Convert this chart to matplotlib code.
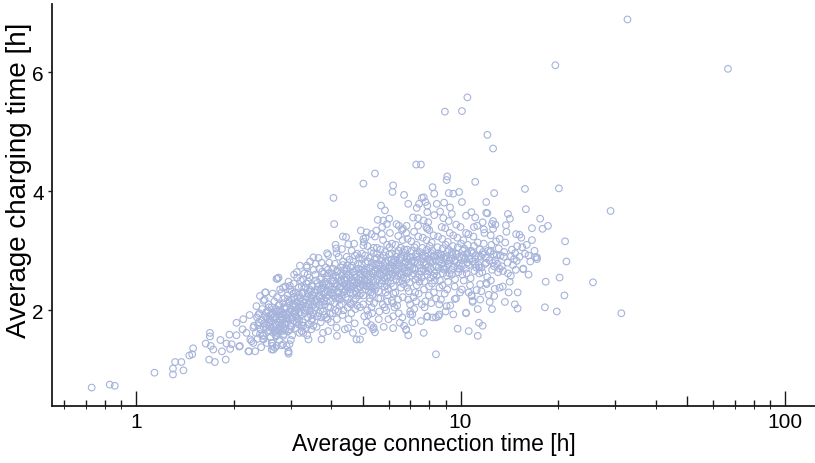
import numpy as np
import matplotlib
matplotlib.use("Agg")
from matplotlib import pyplot as plt

plt.rcParams['font.family'] = ['Liberation Sans', 'DejaVu Sans']

# (connection time [h], charging time [h])
tail_pts = [
    (0.73, 0.70), (0.83, 0.75), (0.86, 0.73), (1.14, 0.95), (1.30, 1.02), (1.30, 0.92),
    (1.32, 1.13), (1.38, 1.13), (1.40, 0.99), (1.46, 1.24), (1.50, 1.36), (1.49, 1.26),
    (1.64, 1.44), (1.69, 1.62), (1.69, 1.56), (1.68, 1.17), (1.75, 1.13), (1.73, 1.34),
    (1.70, 1.40), (1.82, 1.50), (1.89, 1.17), (1.84, 1.31), (1.94, 1.59), (1.97, 1.43),
    (2.04, 1.79), (2.08, 1.39), (2.14, 1.85), (2.19, 1.62), (2.22, 1.31), (2.27, 1.48),
    (2.30, 1.71), (2.33, 1.31), (2.35, 2.07), (2.41, 2.24), (2.50, 2.30), (2.47, 1.57),
    (2.65, 1.34), (2.71, 2.53), (1.90, 1.44), (1.95, 1.35), (2.04, 1.58), (2.09, 1.40),
    (2.13, 1.68), (2.23, 1.31), (2.25, 1.51), (2.30, 1.45), (2.31, 1.74), (2.24, 1.92),
    (2.38, 1.92), (2.47, 2.16), (2.51, 2.30), (2.73, 2.53), (2.78, 2.35), (2.84, 2.38),
    (2.98, 2.41), (2.47, 1.51), (2.62, 1.34), (2.63, 1.40), (2.71, 1.40), (2.91, 1.40),
    (2.95, 1.31), (2.95, 1.27), (2.97, 1.43), (2.68, 1.37), (2.62, 1.45), (2.81, 1.41),
    (2.47, 1.52), (2.71, 1.58),
]

low_pts = [
    (8.4, 1.26), (2.95, 1.30), (3.0, 1.50), (3.4, 1.51), (3.73, 1.51), (3.37, 1.58),
    (3.47, 1.68), (3.24, 1.65), (3.91, 1.65), (4.16, 1.57), (4.78, 1.51), (4.66, 1.62),
    (5.0, 1.65), (5.38, 1.68), (5.45, 1.63), (4.4, 1.68), (6.8, 1.68), (6.9, 1.58),
    (7.7, 1.62), (9.8, 1.69), (10.6, 1.65), (11.3, 1.57), (11.4, 1.79), (11.7, 1.74),
    (10.4, 1.95), (10.9, 2.14), (9.5, 1.93), (9.06, 2.07), (7.9, 1.90), (8.55, 1.90),
    (8.2, 1.88), (7.0, 1.93), (6.5, 1.79), (6.0, 1.85), (6.2, 1.90), (5.4, 1.71),
    (4.9, 1.51), (4.15, 1.71), (3.77, 1.62), (3.52, 1.74), (3.28, 1.74), (3.13, 1.79),
    (2.84, 1.57), (2.84, 1.43), (2.78, 1.68), (2.98, 1.68), (6.8, 1.67), (6.7, 1.74),
    (8.6, 1.93), (8.4, 1.88), (7.9, 1.89), (7.1, 1.93), (12.3, 2.14), (12.5, 2.02),
    (11.3, 2.02), (10.4, 1.96), (10.9, 2.16), (11.6, 2.32), (11.5, 2.44), (10.1, 2.35),
    (9.6, 2.19), (12.7, 2.24), (12.0, 2.46), (10.8, 2.25), (13.2, 2.38), (13.7, 2.14),
    (14.7, 2.10), (15.0, 2.03), (15.0, 2.30),
]

high_pts = [
    (4.06, 3.89), (4.08, 3.45), (5.02, 4.13), (5.45, 4.30), (6.2, 4.10), (6.17, 3.99),
    (6.7, 3.94), (6.9, 3.79), (7.3, 4.45), (7.55, 4.45), (5.69, 3.76), (5.85, 3.68),
    (5.56, 3.52), (5.78, 3.51), (6.03, 3.54), (5.93, 3.45), (6.35, 3.45), (6.65, 3.37),
    (6.82, 3.42), (7.14, 3.56), (7.33, 3.72), (7.45, 3.79), (7.6, 3.89), (7.8, 3.82),
    (7.7, 3.51), (7.9, 3.65), (7.9, 3.37), (4.34, 3.24), (4.44, 3.23), (4.51, 3.11),
    (4.14, 3.04), (4.31, 3.03), (3.52, 2.89), (3.91, 2.93), (4.93, 3.34), (5.14, 3.31),
    (5.32, 3.28), (5.02, 3.20), (5.02, 3.09), (5.5, 3.34), (5.45, 3.24), (3.2, 2.75),
    (2.75, 2.55), (3.13, 2.64), (3.36, 2.72), (3.73, 2.80), (8.2, 4.07), (8.3, 3.96),
    (9.06, 4.19), (9.2, 3.97), (9.5, 3.96), (9.9, 3.99), (11.1, 4.16), (12.7, 3.97),
    (10.1, 3.82), (12.0, 3.82), (12.1, 3.63), (10.5, 5.58), (8.95, 5.34), (10.1, 5.35),
    (12.1, 4.95), (12.6, 4.72), (9.1, 4.25), (15.8, 4.04), (14.0, 3.62), (14.2, 3.54),
    (13.8, 3.43), (15.9, 3.70), (17.6, 3.54), (18.6, 3.42), (17.9, 3.37), (16.6, 3.38),
    (15.2, 3.27), (17.0, 2.89), (16.2, 2.92), (17.2, 2.89), (15.5, 3.06), (14.3, 2.91),
    (14.9, 2.83), (15.6, 2.69), (7.7, 3.90), (7.9, 3.76), (8.45, 3.79), (8.9, 3.81),
    (8.65, 3.66), (9.28, 3.73), (9.4, 3.62), (10.4, 3.59), (10.8, 3.65), (11.1, 3.56),
    (11.7, 3.48), (12.0, 3.64), (12.5, 3.45), (12.6, 3.37),
]

outlier_pts = [
    (32.7, 6.89), (19.6, 6.12), (66.7, 6.06), (20.1, 4.05), (29.0, 3.67), (21.0, 3.16),
    (21.2, 2.82), (18.3, 2.48), (20.2, 2.55), (25.6, 2.47), (20.9, 2.25), (18.2, 2.05),
    (19.8, 1.98), (31.3, 1.95),
]

core_pts = [
    # 2.3 - 2.6 h
    (2.34, 1.62), (2.36, 1.88), (2.38, 1.75), (2.40, 1.95), (2.42, 1.68), (2.44, 1.83),
    (2.45, 2.02), (2.46, 1.58), (2.48, 1.78), (2.50, 1.90), (2.51, 1.70), (2.52, 1.97),
    (2.53, 1.45), (2.54, 1.85), (2.55, 1.64), (2.56, 2.10), (2.57, 1.80), (2.58, 1.73),
    (2.59, 1.92), (2.60, 1.55), (2.37, 1.52), (2.43, 1.38), (2.49, 2.18), (2.55, 1.99),
    (2.58, 1.66), (2.39, 1.80), (2.47, 1.72), (2.53, 1.88), (2.41, 1.60), (2.57, 2.05),
    # 2.6 - 2.9 h
    (2.61, 1.82), (2.62, 2.05), (2.63, 1.70), (2.64, 1.95), (2.65, 1.62), (2.66, 1.88),
    (2.67, 2.15), (2.68, 1.76), (2.69, 1.98), (2.70, 1.56), (2.71, 1.85), (2.72, 2.22),
    (2.73, 1.68), (2.74, 1.92), (2.75, 2.08), (2.76, 1.79), (2.77, 1.50), (2.78, 2.00),
    (2.79, 1.73), (2.80, 1.90), (2.81, 2.30), (2.82, 1.65), (2.83, 1.84), (2.84, 2.12),
    (2.85, 1.95), (2.86, 1.60), (2.87, 1.78), (2.88, 2.02), (2.89, 2.40), (2.90, 1.87),
    (2.63, 1.45), (2.67, 1.90), (2.71, 1.75), (2.75, 1.98), (2.79, 1.83), (2.83, 1.93),
    (2.87, 2.20), (2.69, 1.64), (2.77, 2.10), (2.85, 1.70),
    # 2.9 - 3.2 h
    (2.91, 2.05), (2.92, 1.80), (2.93, 2.25), (2.94, 1.92), (2.95, 1.65), (2.96, 2.12),
    (2.97, 1.98), (2.98, 2.35), (2.99, 1.74), (3.00, 2.02), (3.01, 1.88), (3.02, 2.18),
    (3.03, 1.58), (3.04, 2.08), (3.05, 1.95), (3.06, 2.45), (3.07, 1.82), (3.08, 2.22),
    (3.09, 2.00), (3.10, 1.70), (3.11, 2.30), (3.12, 1.90), (3.13, 2.14), (3.14, 2.55),
    (3.15, 1.86), (3.16, 2.04), (3.17, 1.76), (3.18, 2.26), (3.19, 1.96), (3.20, 2.10),
    (2.93, 1.85), (2.97, 2.15), (3.01, 1.72), (3.05, 2.28), (3.09, 1.93), (3.13, 1.80),
    (3.17, 2.38), (3.03, 1.98), (3.11, 2.07), (3.19, 1.62), (2.95, 2.48), (3.07, 2.60),
    # 3.2 - 3.55 h
    (3.21, 2.20), (3.22, 1.92), (3.24, 2.40), (3.25, 2.05), (3.26, 1.80), (3.28, 2.30),
    (3.29, 2.12), (3.30, 2.62), (3.31, 1.95), (3.33, 2.18), (3.34, 1.70), (3.35, 2.45),
    (3.36, 2.02), (3.38, 2.28), (3.39, 1.88), (3.40, 2.10), (3.42, 2.55), (3.43, 1.98),
    (3.44, 2.35), (3.45, 2.15), (3.47, 1.82), (3.48, 2.42), (3.49, 2.06), (3.50, 2.25),
    (3.52, 1.94), (3.53, 2.68), (3.54, 2.16), (3.23, 2.08), (3.27, 2.52), (3.32, 2.00),
    (3.37, 2.22), (3.41, 1.76), (3.46, 2.32), (3.51, 2.10), (3.28, 1.62), (3.36, 2.75),
    (3.44, 2.00), (3.50, 1.86), (3.25, 2.28), (3.40, 2.48), (3.47, 2.20), (3.33, 2.38),
    # 3.55 - 3.95 h
    (3.56, 2.30), (3.58, 2.05), (3.59, 2.50), (3.61, 2.18), (3.62, 1.90), (3.64, 2.40),
    (3.65, 2.25), (3.67, 2.70), (3.68, 2.08), (3.70, 2.35), (3.71, 1.80), (3.73, 2.55),
    (3.74, 2.14), (3.76, 2.42), (3.77, 1.98), (3.79, 2.28), (3.80, 2.62), (3.82, 2.10),
    (3.83, 2.48), (3.85, 2.22), (3.86, 1.88), (3.88, 2.58), (3.89, 2.32), (3.91, 2.06),
    (3.92, 2.44), (3.94, 2.80), (3.57, 2.60), (3.60, 2.12), (3.63, 2.34), (3.66, 1.95),
    (3.69, 2.52), (3.72, 2.20), (3.75, 2.65), (3.78, 2.38), (3.81, 1.92), (3.84, 2.30),
    (3.87, 2.15), (3.90, 2.68), (3.93, 2.26), (3.60, 1.72), (3.70, 2.00), (3.80, 2.45),
    (3.90, 1.85), (3.65, 2.88), (3.85, 2.72),
    # 3.95 - 4.4 h
    (3.96, 2.40), (3.98, 2.15), (4.00, 2.62), (4.02, 2.28), (4.04, 1.95), (4.06, 2.50),
    (4.08, 2.35), (4.10, 2.78), (4.12, 2.20), (4.14, 2.45), (4.16, 1.85), (4.18, 2.66),
    (4.20, 2.30), (4.22, 2.55), (4.24, 2.08), (4.26, 2.40), (4.28, 2.72), (4.30, 2.25),
    (4.32, 2.58), (4.34, 2.36), (4.36, 2.00), (4.38, 2.68), (4.39, 2.44), (3.97, 2.05),
    (4.01, 2.35), (4.05, 2.70), (4.09, 2.12), (4.13, 2.58), (4.17, 2.42), (4.21, 2.90),
    (4.25, 2.18), (4.29, 2.50), (4.33, 1.92), (4.37, 2.30), (4.03, 2.48), (4.11, 2.00),
    (4.19, 2.22), (4.27, 2.62), (4.35, 2.82), (3.99, 1.80), (4.15, 2.96), (4.31, 2.10),
    (4.07, 2.25), (4.23, 2.38), (4.37, 2.52),
    # 4.4 - 4.9 h
    (4.41, 2.50), (4.43, 2.22), (4.45, 2.70), (4.47, 2.38), (4.49, 2.05), (4.51, 2.60),
    (4.53, 2.44), (4.55, 2.85), (4.57, 2.30), (4.59, 2.55), (4.61, 1.95), (4.63, 2.75),
    (4.65, 2.40), (4.67, 2.64), (4.69, 2.15), (4.71, 2.48), (4.73, 2.92), (4.75, 2.32),
    (4.77, 2.68), (4.79, 2.45), (4.81, 2.08), (4.83, 2.78), (4.85, 2.52), (4.87, 2.25),
    (4.89, 2.62), (4.42, 2.35), (4.46, 2.90), (4.50, 2.18), (4.54, 2.58), (4.58, 2.42),
    (4.62, 3.00), (4.66, 2.28), (4.70, 2.66), (4.74, 2.02), (4.78, 2.55), (4.82, 2.36),
    (4.86, 2.88), (4.44, 2.62), (4.52, 1.85), (4.60, 2.35), (4.68, 2.82), (4.76, 2.20),
    (4.84, 2.46), (4.48, 2.76), (4.64, 2.50), (4.80, 2.95), (4.56, 2.12), (4.72, 1.78),
    (4.88, 2.40),
    # 4.9 - 5.45 h
    (4.91, 2.55), (4.93, 2.28), (4.96, 2.78), (4.98, 2.42), (5.01, 2.10), (5.03, 2.66),
    (5.06, 2.50), (5.08, 2.92), (5.11, 2.35), (5.13, 2.60), (5.16, 2.00), (5.18, 2.82),
    (5.21, 2.45), (5.23, 2.70), (5.26, 2.20), (5.28, 2.56), (5.31, 3.00), (5.33, 2.38),
    (5.36, 2.74), (5.38, 2.50), (5.41, 2.12), (5.43, 2.86), (4.92, 2.40), (4.97, 2.95),
    (5.02, 2.25), (5.07, 2.64), (5.12, 2.48), (5.17, 3.08), (5.22, 2.32), (5.27, 2.72),
    (5.32, 2.05), (5.37, 2.62), (5.42, 2.42), (4.95, 2.68), (5.05, 1.90), (5.15, 2.40),
    (5.25, 2.88), (5.35, 2.26), (5.00, 2.52), (5.10, 2.80), (5.20, 2.58), (5.30, 2.30),
    (5.40, 2.96), (5.14, 1.80), (5.34, 1.95), (5.04, 3.15), (5.24, 2.15), (5.44, 2.68),
    # 5.45 - 6.05 h
    (5.46, 2.65), (5.49, 2.38), (5.52, 2.88), (5.55, 2.52), (5.58, 2.20), (5.61, 2.76),
    (5.64, 2.60), (5.67, 3.02), (5.70, 2.45), (5.73, 2.70), (5.76, 2.10), (5.79, 2.92),
    (5.82, 2.55), (5.85, 2.80), (5.88, 2.30), (5.91, 2.66), (5.94, 3.10), (5.97, 2.48),
    (6.00, 2.84), (6.03, 2.60), (5.47, 2.48), (5.53, 3.05), (5.59, 2.32), (5.65, 2.74),
    (5.71, 2.58), (5.77, 3.18), (5.83, 2.40), (5.89, 2.82), (5.95, 2.15), (6.01, 2.70),
    (5.50, 2.78), (5.62, 1.98), (5.74, 2.50), (5.86, 2.98), (5.98, 2.36), (5.56, 2.62),
    (5.68, 2.88), (5.80, 2.68), (5.92, 2.42), (6.04, 3.06), (5.60, 1.85), (5.84, 2.05),
    (5.72, 3.28), (5.96, 2.25), (5.54, 2.95),
    # 6.05 - 6.75 h
    (6.07, 2.72), (6.10, 2.45), (6.14, 2.95), (6.17, 2.60), (6.21, 2.28), (6.24, 2.84),
    (6.28, 2.68), (6.31, 3.10), (6.35, 2.52), (6.38, 2.78), (6.42, 2.18), (6.45, 3.00),
    (6.49, 2.62), (6.52, 2.88), (6.56, 2.38), (6.59, 2.74), (6.63, 3.18), (6.66, 2.55),
    (6.70, 2.92), (6.73, 2.66), (6.08, 2.55), (6.15, 3.12), (6.22, 2.40), (6.29, 2.82),
    (6.36, 2.65), (6.43, 3.25), (6.50, 2.48), (6.57, 2.90), (6.64, 2.22), (6.71, 2.78),
    (6.12, 2.85), (6.26, 2.05), (6.40, 2.58), (6.54, 3.05), (6.68, 2.44), (6.19, 2.70),
    (6.33, 2.96), (6.47, 2.76), (6.61, 2.50), (6.19, 2.12), (6.45, 1.95), (6.60, 3.35),
    (6.30, 2.30), (6.72, 3.02),
    # 6.75 - 7.5 h
    (6.77, 2.80), (6.81, 2.52), (6.85, 3.02), (6.89, 2.66), (6.93, 2.32), (6.97, 2.90),
    (7.01, 2.74), (7.05, 3.16), (7.09, 2.58), (7.13, 2.84), (7.17, 2.22), (7.21, 3.06),
    (7.25, 2.68), (7.29, 2.94), (7.33, 2.42), (7.37, 2.80), (7.41, 3.24), (7.45, 2.60),
    (7.49, 2.98), (6.79, 2.62), (6.87, 3.20), (6.95, 2.46), (7.03, 2.88), (7.11, 2.70),
    (7.19, 3.32), (7.27, 2.52), (7.35, 2.96), (7.43, 2.28), (6.83, 2.90), (6.99, 2.10),
    (7.15, 2.62), (7.31, 3.10), (7.47, 2.48), (6.91, 2.76), (7.07, 3.00), (7.23, 2.82),
    (7.39, 2.55), (7.00, 1.98), (7.20, 2.02), (7.40, 3.42), (6.85, 2.38), (7.30, 2.15),
    # 7.5 - 8.35 h
    (7.54, 2.82), (7.59, 2.55), (7.63, 3.05), (7.68, 2.70), (7.72, 2.35), (7.77, 2.92),
    (7.81, 2.76), (7.86, 3.18), (7.90, 2.60), (7.95, 2.86), (7.99, 2.25), (8.04, 3.08),
    (8.08, 2.70), (8.13, 2.96), (8.17, 2.45), (8.22, 2.82), (8.26, 3.26), (8.31, 2.62),
    (7.56, 2.66), (7.65, 3.22), (7.74, 2.48), (7.83, 2.90), (7.92, 2.72), (8.01, 3.35),
    (8.10, 2.55), (8.19, 3.00), (8.28, 2.30), (7.61, 2.92), (7.79, 2.15), (7.97, 2.66),
    (8.15, 3.14), (8.33, 2.50), (7.70, 2.80), (7.88, 3.02), (8.06, 2.84), (8.24, 2.58),
    (7.75, 2.05), (8.12, 2.12), (7.95, 3.48), (8.30, 2.92),
    # 8.35 - 9.3 h
    (8.39, 2.84), (8.45, 2.58), (8.50, 3.06), (8.56, 2.72), (8.61, 2.38), (8.67, 2.94),
    (8.72, 2.78), (8.78, 3.20), (8.83, 2.62), (8.89, 2.88), (8.94, 2.28), (9.00, 3.10),
    (9.05, 2.72), (9.11, 2.98), (9.16, 2.48), (9.22, 2.84), (9.27, 3.30), (8.42, 2.66),
    (8.53, 3.24), (8.64, 2.50), (8.75, 2.92), (8.86, 2.74), (8.97, 3.38), (9.08, 2.58),
    (9.19, 3.02), (8.48, 2.92), (8.70, 2.18), (8.92, 2.68), (9.14, 3.15), (8.58, 2.82),
    (8.81, 3.04), (9.03, 2.86), (9.25, 2.62), (8.60, 2.10), (9.10, 2.35), (8.85, 3.55),
    # 9.3 - 10.3 h
    (9.34, 2.86), (9.40, 2.60), (9.47, 3.08), (9.53, 2.74), (9.59, 2.40), (9.66, 2.96),
    (9.72, 2.80), (9.78, 3.22), (9.85, 2.64), (9.91, 2.90), (9.97, 2.30), (10.04, 3.12),
    (10.10, 2.74), (10.17, 3.00), (10.23, 2.50), (10.29, 2.86), (9.37, 2.68), (9.50, 3.26),
    (9.62, 2.52), (9.75, 2.94), (9.88, 2.76), (10.00, 3.40), (10.13, 2.60), (10.26, 3.04),
    (9.44, 2.94), (9.69, 2.20), (9.94, 2.70), (10.20, 3.18), (9.56, 2.84), (9.81, 3.06),
    (10.07, 2.88),
    # 10.3 - 11.5 h
    (10.36, 2.88), (10.45, 2.62), (10.53, 3.10), (10.62, 2.76), (10.70, 2.42), (10.79, 2.98),
    (10.87, 2.82), (10.96, 3.24), (11.04, 2.66), (11.13, 2.92), (11.21, 2.34), (11.30, 3.14),
    (11.38, 2.76), (11.47, 3.02), (10.40, 2.70), (10.58, 3.28), (10.75, 2.54), (10.92, 2.96),
    (11.09, 2.78), (11.26, 3.42), (11.43, 2.62), (10.49, 2.96), (10.83, 2.24), (11.17, 2.72),
    (10.66, 2.86), (11.00, 3.08), (11.34, 2.90),
    # 11.5 - 13.2 h
    (11.55, 2.90), (11.67, 2.64), (11.79, 3.12), (11.91, 2.78), (12.03, 2.44), (12.15, 3.00),
    (12.27, 2.84), (12.39, 3.26), (12.51, 2.68), (12.63, 2.94), (12.75, 2.36), (12.87, 3.16),
    (12.99, 2.78), (13.11, 3.04), (11.61, 2.72), (11.85, 3.30), (12.09, 2.56), (12.33, 2.98),
    (12.57, 2.80), (12.81, 3.44), (13.05, 2.64), (11.73, 2.98), (12.21, 2.26), (12.69, 2.74),
    (11.97, 2.88), (12.45, 3.10), (12.93, 2.92),
    # 13.2 - 17.5 h
    (13.30, 2.92), (13.52, 2.66), (13.74, 3.14), (13.96, 2.80), (14.18, 2.48), (14.40, 3.02),
    (14.62, 2.86), (14.84, 3.28), (13.41, 2.74), (13.85, 3.32), (14.29, 2.58), (14.73, 2.96),
    (13.63, 2.98), (14.07, 2.30), (14.51, 2.76), (14.95, 3.08), (13.20, 3.20), (14.00, 2.62),
    (14.80, 2.68), (15.2, 2.90), (15.6, 2.70), (16.0, 3.10), (16.4, 2.82), (16.9, 3.00),
    (15.4, 3.22), (16.2, 2.60), (17.2, 2.86), (15.8, 2.95), (16.6, 3.18),
]

# second pass over the densest part of the cloud
core_extra = [
    (2.52, 1.77), (2.58, 1.86), (2.62, 1.93), (2.66, 1.72), (2.70, 2.02), (2.74, 1.81),
    (2.78, 1.95), (2.82, 1.76), (2.86, 2.05), (2.90, 1.93), (2.94, 2.18), (2.98, 1.86),
    (2.64, 2.28), (2.72, 1.62), (2.88, 1.66),
    (3.02, 2.32), (3.06, 2.10), (3.10, 1.98), (3.14, 2.22), (3.18, 1.84), (3.22, 2.50),
    (3.26, 2.15), (3.30, 2.38), (3.34, 2.06), (3.38, 2.60), (3.42, 2.20), (3.46, 1.92),
    (3.50, 2.40), (3.54, 2.30), (3.58, 2.78), (3.24, 1.75), (3.44, 2.82),
    (3.62, 2.46), (3.68, 2.22), (3.74, 2.36), (3.80, 2.16), (3.86, 2.44), (3.92, 2.62),
    (3.98, 2.30), (4.04, 2.56), (4.10, 2.40), (4.16, 2.66), (4.22, 2.20), (4.28, 2.48),
    (4.34, 2.76), (4.40, 2.32), (3.72, 1.88), (3.96, 1.94), (4.20, 1.98), (4.12, 3.10),
    (3.88, 2.96),
    (4.45, 2.55), (4.52, 2.38), (4.58, 2.72), (4.65, 2.46), (4.72, 2.60), (4.78, 2.28),
    (4.85, 2.70), (4.92, 2.50), (4.98, 2.86), (5.05, 2.42), (5.12, 2.68), (5.18, 2.52),
    (5.25, 2.40), (5.32, 2.80), (5.38, 2.62), (5.45, 2.34), (4.60, 2.10), (4.90, 2.05),
    (5.20, 1.92), (4.70, 3.12), (5.10, 3.22), (5.40, 3.05), (4.50, 1.70), (5.30, 1.75),
    (5.55, 2.70), (5.62, 2.50), (5.70, 2.84), (5.78, 2.62), (5.86, 2.74), (5.94, 2.56),
    (6.02, 2.94), (6.10, 2.66), (6.18, 2.80), (6.26, 2.58), (6.34, 2.90), (6.42, 2.70),
    (6.50, 2.84), (6.58, 2.60), (6.66, 2.98), (6.74, 2.72), (6.84, 2.86), (6.94, 2.64),
    (5.66, 2.20), (5.90, 2.00), (6.14, 2.16), (6.38, 2.08), (6.62, 1.88), (6.90, 2.18),
    (5.74, 3.40), (6.06, 3.30), (6.46, 3.42), (6.80, 3.30), (6.20, 1.70), (5.80, 1.72),
    (7.05, 2.82), (7.20, 2.70), (7.35, 2.90), (7.50, 2.76), (7.65, 2.88), (7.80, 2.66),
    (7.95, 2.96), (8.10, 2.80), (8.25, 2.90), (8.40, 2.74), (8.55, 2.96), (8.70, 2.86),
    (8.85, 2.70), (9.00, 2.90), (9.20, 2.78), (9.40, 2.98), (9.60, 2.82), (9.80, 2.70),
    (7.25, 2.30), (7.60, 2.10), (8.00, 2.40), (8.40, 2.20), (8.80, 2.42), (9.30, 2.08),
    (7.40, 3.55), (7.85, 3.40), (8.30, 3.60), (8.75, 3.40), (9.20, 3.50), (9.70, 3.44),
    (7.10, 1.80), (7.55, 1.82), (9.00, 1.98),
    (10.2, 2.92), (10.5, 2.80), (10.8, 3.00), (11.1, 2.86), (11.4, 2.72), (11.7, 2.94),
    (12.0, 2.80), (12.4, 3.00), (12.8, 2.84), (13.2, 2.70), (13.6, 2.90), (10.4, 3.30),
    (11.0, 3.40), (11.8, 3.36), (12.6, 3.50), (10.6, 2.30), (11.5, 2.18), (12.4, 2.50),
    (13.5, 2.40),
]

pts = np.array(tail_pts + low_pts + core_pts + core_extra + high_pts + outlier_pts)
conn_time = pts[:, 0]
charge_time = pts[:, 1]

fig = plt.figure(figsize=(8.15, 4.64), dpi=100)
ax = fig.add_axes([0.0638, 0.1228, 0.9362, 0.8664])

ax.scatter(conn_time, charge_time, s=23, facecolors='none', edgecolors='#a6b3db', linewidths=0.8)

ax.set_xscale('log')
ax.set_xlim(0.551, 123.7)
ax.set_ylim(0.39, 7.15)

ax.spines['top'].set_visible(False)
ax.spines['right'].set_visible(False)
for s in ['left', 'bottom']:
    ax.spines[s].set_linewidth(1.3)
    ax.spines[s].set_color('#1a1a1a')

# x ticks: long at decades, medium at 5 / 50, short elsewhere (pointing inwards)
ax.set_xticks([1, 10, 100])
ax.set_xticklabels(['1', '10', '100'])
minor = [0.6, 0.7, 0.8, 0.9, 2, 3, 4, 6, 7, 8, 9, 20, 30, 40, 60, 70, 80, 90]
ax.set_xticks(minor, minor=True)
ax.xaxis.set_minor_formatter(matplotlib.ticker.NullFormatter())
ax.tick_params(axis='x', which='major', direction='in', length=10.8, width=1.0,
               labelsize=15, pad=4, color='#1a1a1a')
ax.tick_params(axis='x', which='minor', direction='in', length=4.2, width=1.0, color='#1a1a1a')
sec = ax.secondary_xaxis('bottom')
sec.set_xticks([5, 50])
sec.tick_params(direction='in', length=7.5, width=1.0, labelbottom=False, color='#1a1a1a')
sec.spines['bottom'].set_visible(False)

ax.set_yticks([2, 4, 6])
ax.set_yticklabels(['2', '4', '6'])
ax.tick_params(axis='y', direction='out', length=3, width=1.0, labelsize=15, pad=3,
               color='#1a1a1a')

ax.set_xlabel('Average connection time [h]', fontsize=16.5, labelpad=1)
ax.set_ylabel('Average charging time [h]', fontsize=20)
ax.yaxis.set_label_coords(-0.026, 0.565)

fig.savefig('out.png', dpi=100)
